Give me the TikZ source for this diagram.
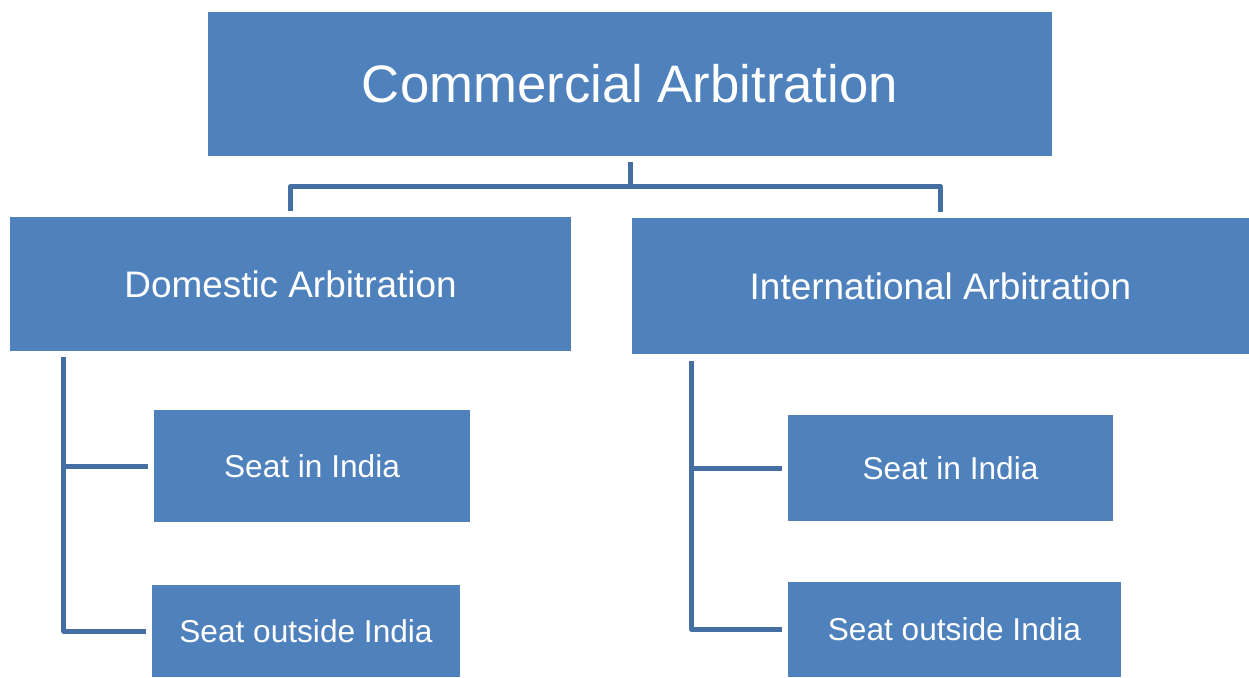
\documentclass[tikz,border=0pt]{standalone}
\usepackage{fontspec}
\setmainfont{Liberation Sans}
\definecolor{boxblue}{RGB}{79,129,189}
\definecolor{lineblue}{RGB}{69,110,163}

\begin{document}
\begin{tikzpicture}[
  box/.style={fill=boxblue, text=white, inner sep=0pt},
  conn/.style={draw=lineblue, line width=0.1cm, line join=round}
]
\useasboundingbox (0,0) rectangle (24.98,-13.54);

% Top box
\node[box, minimum width=16.88cm, minimum height=2.88cm, font=\fontsize{30}{36}\selectfont] (commercial) at (12.6,-1.68) {Commercial Arbitration};

% Second level
\node[box, minimum width=11.22cm, minimum height=2.68cm, font=\fontsize{21}{25}\selectfont] (domestic) at (5.81,-5.68) {Domestic Arbitration};
\node[box, minimum width=12.34cm, minimum height=2.72cm, font=\fontsize{21}{25}\selectfont] (international) at (18.81,-5.72) {International Arbitration};

% Seats
\node[box, minimum width=6.32cm, minimum height=2.24cm, font=\fontsize{18}{22}\selectfont] (dseatin) at (6.24,-9.32) {Seat in India};
\node[box, minimum width=6.16cm, minimum height=1.84cm, font=\fontsize{18}{22}\selectfont] (dseatout) at (6.12,-12.62) {Seat outside India};
\node[box, minimum width=6.5cm, minimum height=2.12cm, font=\fontsize{18}{22}\selectfont] (iseatin) at (19.01,-9.36) {Seat in India};
\node[box, minimum width=6.66cm, minimum height=1.9cm, font=\fontsize{18}{22}\selectfont] (iseatout) at (19.09,-12.59) {Seat outside India};

% Top connectors
\draw[conn, shorten <=0.12cm, shorten >=0.12cm] (commercial.south) -- ++(0,-0.6) -| (domestic.north);
\draw[conn, shorten <=0.12cm, shorten >=0.12cm] (commercial.south) -- ++(0,-0.6) -| (international.north);

% Side connectors
\coordinate (dtrunk) at ([xshift=1.08cm,yshift=-0.12cm]domestic.south west);
\draw[conn] (dtrunk) |- ([xshift=-0.12cm]dseatout.west);
\draw[conn] (dtrunk |- dseatin.west) -- ([xshift=-0.12cm]dseatin.west);

\coordinate (itrunk) at ([xshift=1.2cm,yshift=-0.14cm]international.south west);
\draw[conn] (itrunk) |- ([xshift=-0.12cm]iseatout.west);
\draw[conn] (itrunk |- iseatin.west) -- ([xshift=-0.12cm]iseatin.west);
\end{tikzpicture}
\end{document}
